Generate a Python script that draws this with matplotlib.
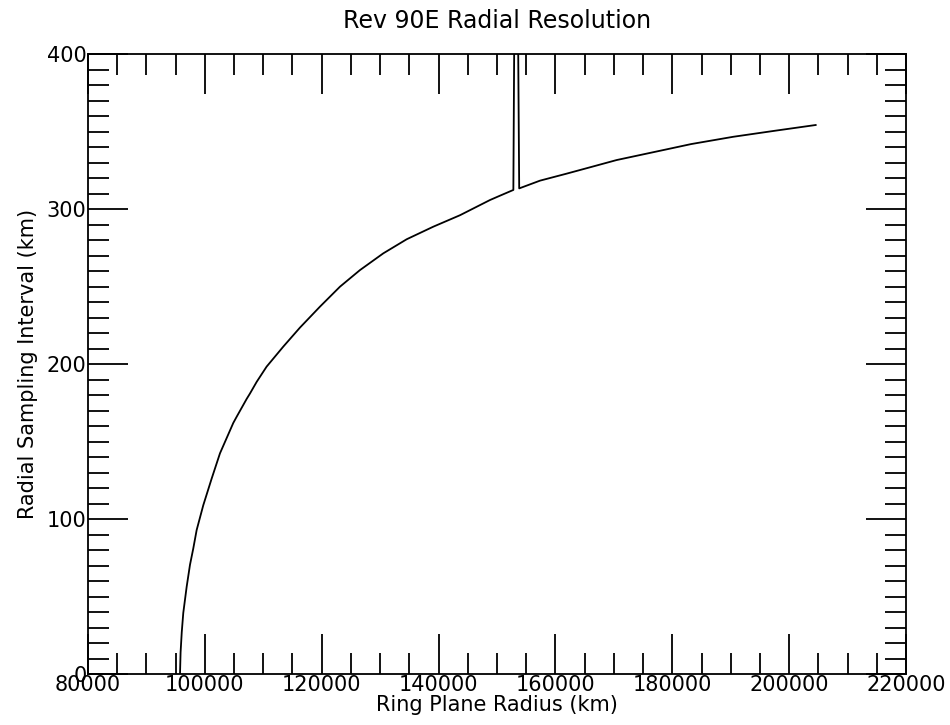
import matplotlib
matplotlib.use('Agg')
import matplotlib.pyplot as plt
from matplotlib.ticker import MultipleLocator

# values
radius = [95750, 95850, 96050, 96310, 96890, 97460, 98022, 98600, 99733,
          101160, 102592, 104000, 104870, 105450, 107160, 107730, 108873,
          110570, 113420, 116280, 119700, 123130, 126550, 130540, 134550,
          139100, 143670, 148800, 150510, 152800, 153250, 153800, 157360,
          161900, 166200, 170480, 174700, 179040, 183230, 190430, 197580,
          204540]
interval = [0, 14, 27, 39.4, 56.3, 70.5, 81, 92.9, 108.9,
            126, 142.4, 154.5, 162, 166, 177.5, 181, 188.5,
            198.3, 211.2, 223.5, 237, 249.9, 260.6, 271.4, 280.5,
            288.6, 296, 305.8, 308.6, 312.3, 600, 313.3, 318.3,
            322.8, 327.2, 331.6, 335, 338.5, 341.9, 346.6, 350.5,
            354.2]

plt.rcParams['font.family'] = 'DejaVu Sans'

fig = plt.figure(figsize=(9.5, 7.25), dpi=100)
ax = fig.add_axes([0.0926, 0.0703, 0.8611, 0.8552])

ax.plot(radius, interval, color='black', linewidth=1.3)

ax.set_xlim(80000, 220000)
ax.set_ylim(0, 400)
ax.xaxis.set_major_locator(MultipleLocator(20000))
ax.xaxis.set_minor_locator(MultipleLocator(5000))
ax.yaxis.set_major_locator(MultipleLocator(100))
ax.yaxis.set_minor_locator(MultipleLocator(10))

ax.tick_params(which='both', direction='in', top=True, right=True,
               width=1.3, labelsize=15, pad=1)
ax.tick_params(which='major', length=29)
ax.tick_params(which='minor', length=15)
for s in ax.spines.values():
    s.set_linewidth(1.3)

ax.set_title('Rev 90E Radial Resolution', fontsize=17, pad=19)
ax.set_xlabel('Ring Plane Radius (km)', fontsize=15, labelpad=0)
ax.set_ylabel('Radial Sampling Interval (km)', fontsize=15, labelpad=6)

fig.savefig('out.png', dpi=100)
